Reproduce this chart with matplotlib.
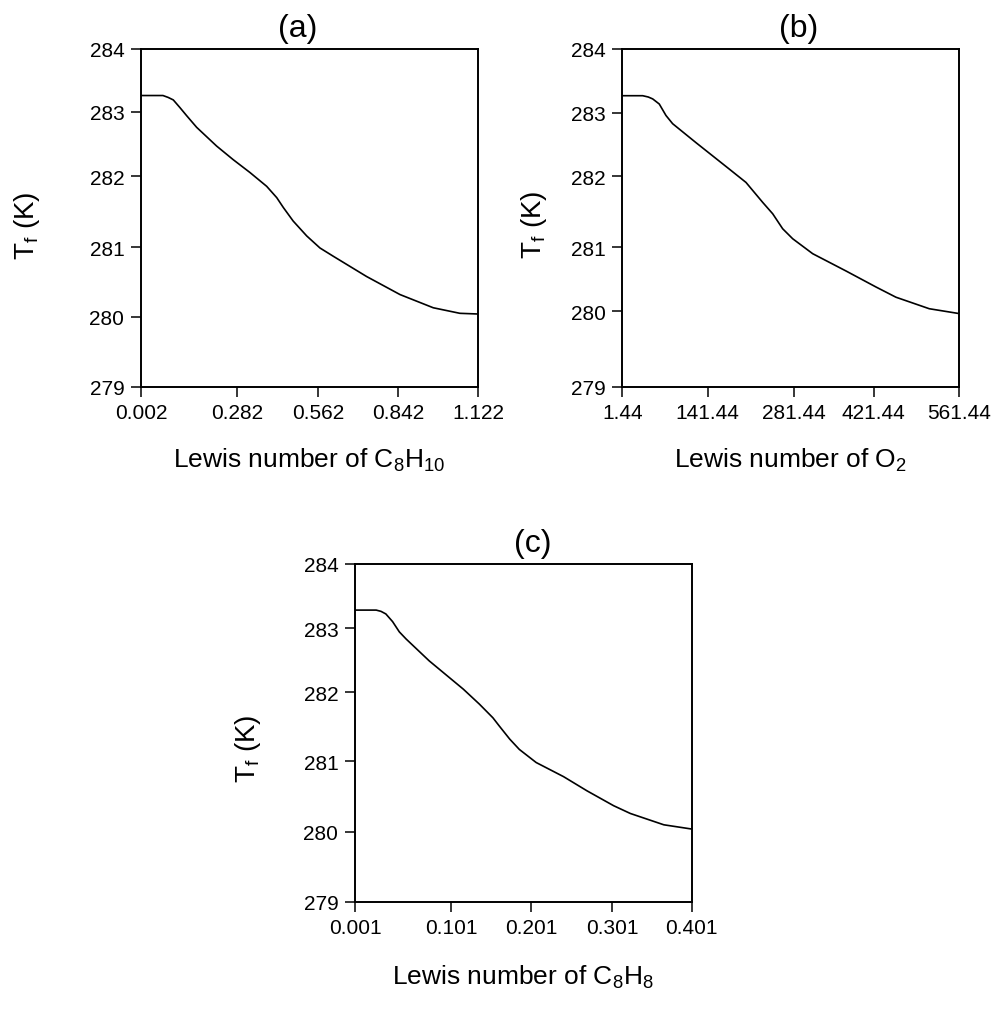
import numpy as np
import matplotlib
matplotlib.use("Agg")
import matplotlib.pyplot as plt

plt.rcParams['font.family'] = ['Liberation Sans', 'DejaVu Sans']
plt.rcParams['mathtext.default'] = 'regular'

# data
le_c8h10 = [0.002, 0.066, 0.081, 0.096, 0.115, 0.135, 0.164, 0.222, 0.270, 0.326, 0.384,
            0.419, 0.442, 0.476, 0.523, 0.569, 0.616, 0.732, 0.849, 0.965, 1.058, 1.122]
tf_c8h10 = [283.26, 283.26, 283.23, 283.19, 283.07, 282.94, 282.76, 282.47, 282.26, 282.06, 281.86,
            281.70, 281.56, 281.37, 281.16, 280.99, 280.87, 280.58, 280.32, 280.13, 280.05, 280.04]

le_o2 = [1.44, 34.9, 44.0, 51.3, 62.1, 73.1, 84.0, 122.2, 176.6, 203.8, 231.0, 247.3, 263.5,
         279.8, 314.7, 373.0, 425.2, 458.0, 512.7, 561.44]
tf_o2 = [283.27, 283.27, 283.25, 283.22, 283.14, 282.96, 282.83, 282.53, 282.11, 281.91, 281.63,
         281.47, 281.26, 281.12, 280.90, 280.63, 280.38, 280.22, 280.04, 279.97]

le_c8h8 = [0.001, 0.023, 0.028, 0.033, 0.040, 0.047, 0.054, 0.078, 0.116, 0.136, 0.153, 0.161,
           0.174, 0.186, 0.207, 0.241, 0.270, 0.303, 0.324, 0.366, 0.401]
tf_c8h8 = [283.28, 283.28, 283.26, 283.22, 283.10, 282.94, 282.83, 282.49, 282.05, 281.83, 281.63,
           281.51, 281.32, 281.17, 280.98, 280.78, 280.58, 280.37, 280.26, 280.10, 280.04]

xticks_a = [0.002, 0.282, 0.562, 0.842, 1.122]
xticks_b = [1.44, 141.44, 281.44, 421.44, 561.44]
xticks_c = [0.001, 0.101, 0.201, 0.301, 0.401]
xlabels_a = ['0.002', '0.282', '0.562', '0.842', '1.122']
xlabels_b = ['1.44', '141.44', '281.44', '421.44', '561.44']
xlabels_c = ['0.001', '0.101', '0.201', '0.301', '0.401']
yticks = [279, 280, 281, 282, 283, 284]

# where the ticks sit along each axis in the original (it is not evenly spaced)
xfrac_a = [0, 0.2855, 0.5248, 0.7620, 1]
xfrac_b = [0, 0.2536, 0.5091, 0.7466, 1]
xfrac_c = [0, 0.2860, 0.5236, 0.7632, 1]
yfrac_a = [0, 0.2070, 0.4128, 0.6228, 0.8138, 1]
yfrac_b = [0, 0.2233, 0.4128, 0.6239, 0.8105, 1]
yfrac_c = [0, 0.2063, 0.4160, 0.6196, 0.8103, 1]


def warp(ticks, fracs):
    t = np.asarray(ticks, float)
    f = np.asarray(fracs, float)
    return (lambda v: np.interp(v, t, f), lambda u: np.interp(u, f, t))


fig = plt.figure(figsize=(9.92, 10.12), dpi=100)

panels = [
    dict(rect=[0.1421, 0.6169, 0.3400, 0.3337], x=le_c8h10, y=tf_c8h10, xt=xticks_a, xl=xlabels_a,
         xf=xfrac_a, yf=yfrac_a, title='(a)', tx=0.465,
         xlabel='Lewis number of C$_8$H$_{10}$', ylx=-0.2935, yly=0.479, xly=-0.236),
    dict(rect=[0.6273, 0.6169, 0.3394, 0.3337], x=le_o2, y=tf_o2, xt=xticks_b, xl=xlabels_b,
         xf=xfrac_b, yf=yfrac_b, title='(b)', tx=0.525,
         xlabel='Lewis number of O$_2$', ylx=-0.2177, yly=0.482, xly=-0.236),
    dict(rect=[0.3579, 0.1082, 0.3394, 0.3335], x=le_c8h8, y=tf_c8h8, xt=xticks_c, xl=xlabels_c,
         xf=xfrac_c, yf=yfrac_c, title='(c)', tx=0.529,
         xlabel='Lewis number of C$_8$H$_8$', ylx=-0.273, yly=0.455, xly=-0.245),
]

for p in panels:
    ax = fig.add_axes(p['rect'])
    ax.set_xscale('function', functions=warp(p['xt'], p['xf']))
    ax.set_yscale('function', functions=warp(yticks, p['yf']))
    ax.plot(p['x'], p['y'], color='black', lw=1.2)
    ax.set_xlim(p['xt'][0], p['xt'][-1])
    ax.set_ylim(yticks[0], yticks[-1])
    ax.set_xticks(p['xt'])
    ax.set_xticklabels(p['xl'])
    ax.set_yticks(yticks)
    ax.minorticks_off()
    ax.tick_params(direction='out', length=7, width=1.1, labelsize=15, pad=5)
    for s in ax.spines.values():
        s.set_linewidth(1.4)
    ax.set_title(p['title'], fontsize=23, x=p['tx'], pad=9)
    ax.set_ylabel('T$_f$ (K)', fontsize=20)
    ax.yaxis.set_label_coords(p['ylx'], p['yly'])
    ax.set_xlabel(p['xlabel'], fontsize=19)
    ax.xaxis.label.set_va('baseline')
    ax.xaxis.set_label_coords(0.5, p['xly'])

fig.savefig('out.png', dpi=100)
